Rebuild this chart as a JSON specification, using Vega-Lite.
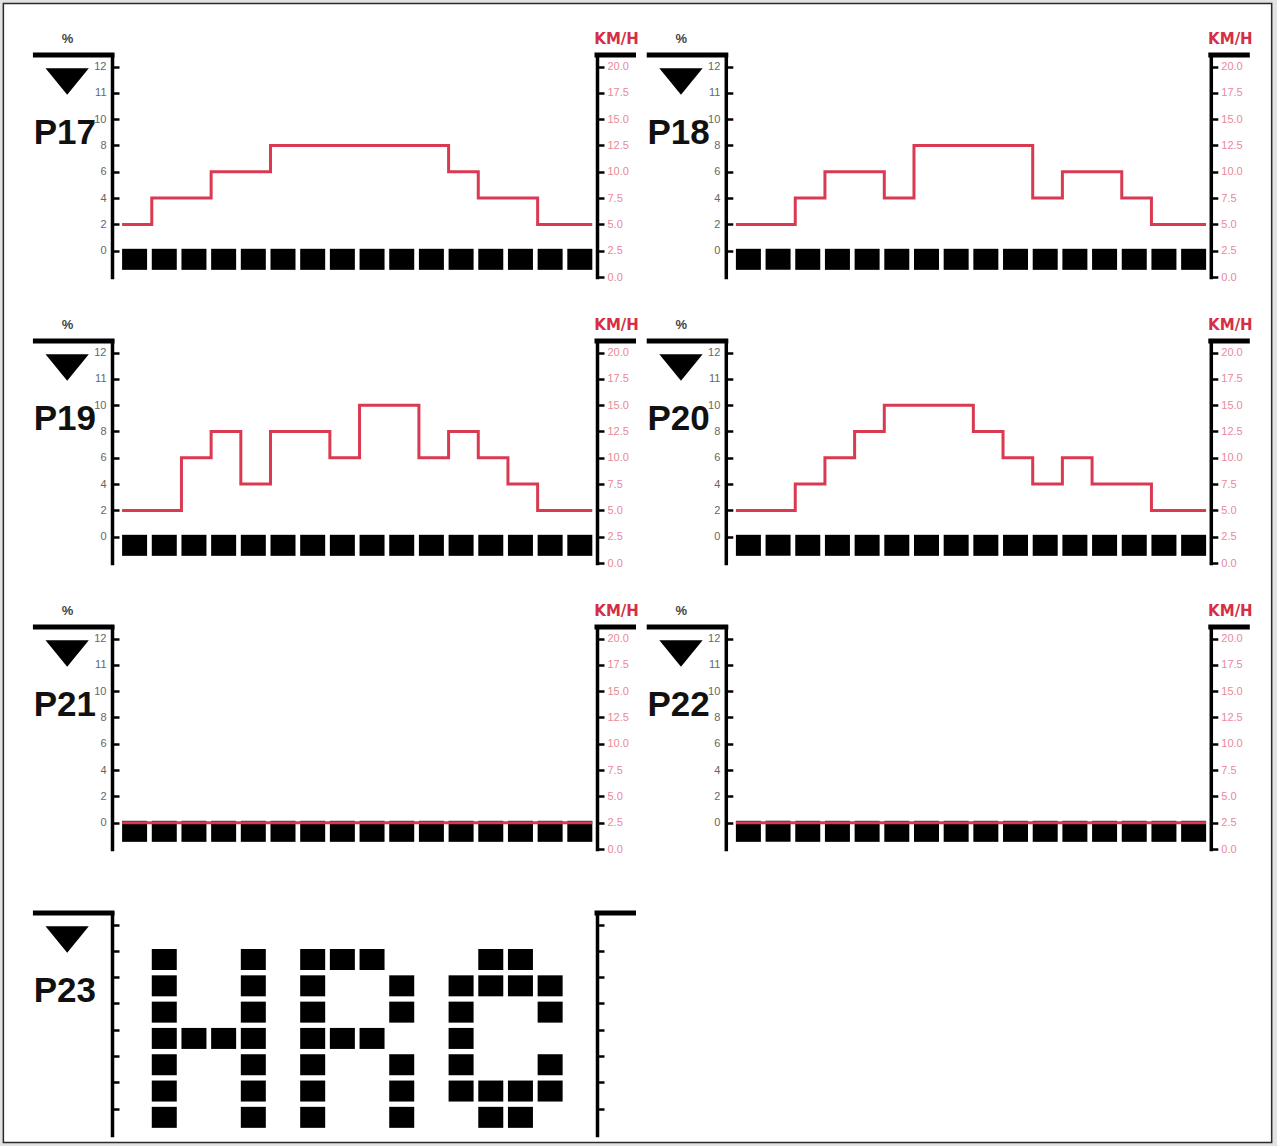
{
"$schema":"https://vega.github.io/schema/vega-lite/v6.json",
"background":"#e2e2e2",
"padding":{"left":2,"top":2,"right":4,"bottom":3},
"config":{"view":{"stroke":null}},
"datasets":{
"segments":[{"seg":0},{"seg":1},{"seg":2},{"seg":3},{"seg":4},{"seg":5},{"seg":6},{"seg":7},{"seg":8},{"seg":9},{"seg":10},{"seg":11},{"seg":12},{"seg":13},{"seg":14},{"seg":15}],
"profiles":[
{"p":"P17","seg":0,"speed":5},{"p":"P17","seg":1,"speed":7.5},{"p":"P17","seg":2,"speed":7.5},{"p":"P17","seg":3,"speed":10},{"p":"P17","seg":4,"speed":10},{"p":"P17","seg":5,"speed":12.5},{"p":"P17","seg":6,"speed":12.5},{"p":"P17","seg":7,"speed":12.5},{"p":"P17","seg":8,"speed":12.5},{"p":"P17","seg":9,"speed":12.5},{"p":"P17","seg":10,"speed":12.5},{"p":"P17","seg":11,"speed":10},{"p":"P17","seg":12,"speed":7.5},{"p":"P17","seg":13,"speed":7.5},{"p":"P17","seg":14,"speed":5},{"p":"P17","seg":15,"speed":5},{"p":"P17","seg":15.84,"speed":5},
{"p":"P18","seg":0,"speed":5},{"p":"P18","seg":1,"speed":5},{"p":"P18","seg":2,"speed":7.5},{"p":"P18","seg":3,"speed":10},{"p":"P18","seg":4,"speed":10},{"p":"P18","seg":5,"speed":7.5},{"p":"P18","seg":6,"speed":12.5},{"p":"P18","seg":7,"speed":12.5},{"p":"P18","seg":8,"speed":12.5},{"p":"P18","seg":9,"speed":12.5},{"p":"P18","seg":10,"speed":7.5},{"p":"P18","seg":11,"speed":10},{"p":"P18","seg":12,"speed":10},{"p":"P18","seg":13,"speed":7.5},{"p":"P18","seg":14,"speed":5},{"p":"P18","seg":15,"speed":5},{"p":"P18","seg":15.84,"speed":5},
{"p":"P19","seg":0,"speed":5},{"p":"P19","seg":1,"speed":5},{"p":"P19","seg":2,"speed":10},{"p":"P19","seg":3,"speed":12.5},{"p":"P19","seg":4,"speed":7.5},{"p":"P19","seg":5,"speed":12.5},{"p":"P19","seg":6,"speed":12.5},{"p":"P19","seg":7,"speed":10},{"p":"P19","seg":8,"speed":15},{"p":"P19","seg":9,"speed":15},{"p":"P19","seg":10,"speed":10},{"p":"P19","seg":11,"speed":12.5},{"p":"P19","seg":12,"speed":10},{"p":"P19","seg":13,"speed":7.5},{"p":"P19","seg":14,"speed":5},{"p":"P19","seg":15,"speed":5},{"p":"P19","seg":15.84,"speed":5},
{"p":"P20","seg":0,"speed":5},{"p":"P20","seg":1,"speed":5},{"p":"P20","seg":2,"speed":7.5},{"p":"P20","seg":3,"speed":10},{"p":"P20","seg":4,"speed":12.5},{"p":"P20","seg":5,"speed":15},{"p":"P20","seg":6,"speed":15},{"p":"P20","seg":7,"speed":15},{"p":"P20","seg":8,"speed":12.5},{"p":"P20","seg":9,"speed":10},{"p":"P20","seg":10,"speed":7.5},{"p":"P20","seg":11,"speed":10},{"p":"P20","seg":12,"speed":7.5},{"p":"P20","seg":13,"speed":7.5},{"p":"P20","seg":14,"speed":5},{"p":"P20","seg":15,"speed":5},{"p":"P20","seg":15.84,"speed":5},
{"p":"P21","seg":0,"speed":2.5},{"p":"P21","seg":15.84,"speed":2.5},
{"p":"P22","seg":0,"speed":2.5},{"p":"P22","seg":15.84,"speed":2.5}
],
"hrc":[
{"col":1,"row":0},{"col":1,"row":1},{"col":1,"row":2},{"col":1,"row":3},{"col":1,"row":4},{"col":1,"row":5},{"col":1,"row":6},
{"col":4,"row":0},{"col":4,"row":1},{"col":4,"row":2},{"col":4,"row":3},{"col":4,"row":4},{"col":4,"row":5},{"col":4,"row":6},
{"col":2,"row":3},{"col":3,"row":3},
{"col":6,"row":0},{"col":6,"row":1},{"col":6,"row":2},{"col":6,"row":3},{"col":6,"row":4},{"col":6,"row":5},{"col":6,"row":6},
{"col":7,"row":6},{"col":8,"row":6},{"col":9,"row":5},{"col":9,"row":4},{"col":7,"row":3},{"col":8,"row":3},{"col":9,"row":2},{"col":9,"row":1},{"col":9,"row":0},
{"col":12,"row":6},{"col":13,"row":6},{"col":11,"row":5},{"col":12,"row":5},{"col":13,"row":5},{"col":14,"row":5},{"col":11,"row":4},{"col":14,"row":4},{"col":11,"row":3},{"col":11,"row":2},{"col":14,"row":2},{"col":11,"row":1},{"col":12,"row":1},{"col":13,"row":1},{"col":14,"row":1},{"col":12,"row":0},{"col":13,"row":0}
]
},
"columns":2,
"bounds":"flush",
"spacing":{"row":64,"column":128.8},
"concat":[
{"width":485,"height":222,"resolve":{"scale":{"y":"independent"}},"layer":[
{"data":{"values":[{}]},"mark":{"type":"rect","fill":"#ffffff","stroke":"#2a2a2a","strokeWidth":1.5},"encoding":{"x":{"datum":-4.0,"type":"quantitative","scale":{"domain":[-0.34,16.0],"nice":false,"zero":false},"axis":null},"x2":{"datum":38.73},"y":{"datum":26.0,"type":"quantitative","scale":{"domain":[0,21.1],"nice":false,"zero":false},"axis":null},"y2":{"datum":-82.27}}},
{"data":{"name":"segments"},"mark":{"type":"rect","color":"#000","x2Offset":25},"encoding":{"x":{"field":"seg","type":"quantitative","scale":{"domain":[-0.34,16.0],"nice":false,"zero":false},"axis":{"orient":"bottom","zindex":1,"labels":false,"ticks":false,"title":null,"grid":false,"domainColor":"#000","domainWidth":4,"domainCap":"square"}},"x2":{"field":"seg"},"y":{"datum":0.68,"type":"quantitative","scale":{"domain":[0,21.1],"nice":false,"zero":false},"axis":null},"y2":{"datum":2.68}}},
{"data":{"values":[{}]},"mark":{"type":"rule","color":"#000","strokeWidth":5,"strokeCap":"square"},"encoding":{"x":{"datum":-2.92,"type":"quantitative","scale":{"domain":[-0.34,16.0],"nice":false,"zero":false},"axis":null},"x2":{"datum":-0.34},"y":{"datum":21.1,"type":"quantitative","scale":{"domain":[0,21.1],"nice":false,"zero":false},"axis":{"orient":"left","zindex":1,"values":[2.5,5,7.5,10,12.5,15,17.5,20],"labelExpr":"datum.value < 3 ? '0' : datum.value < 6 ? '2' : datum.value < 8 ? '4' : datum.value < 11 ? '6' : datum.value < 13 ? '8' : datum.value < 16 ? '10' : datum.value < 18 ? '11' : '12'","title":null,"grid":false,"domainColor":"#000","domainWidth":3.5,"domainCap":"square","tickColor":"#000","tickSize":-7,"tickWidth":2.5,"labelFont":"Liberation Sans","labelFontSize":11,"labelColor":"#666","labelPadding":13}}}},
{"data":{"values":[{}]},"mark":{"type":"rule","color":"#000","strokeWidth":5,"strokeCap":"square"},"encoding":{"x":{"datum":16.0,"type":"quantitative","scale":{"domain":[-0.34,16.0],"nice":false,"zero":false},"axis":null},"x2":{"datum":17.23},"y":{"datum":21.1,"type":"quantitative","scale":{"domain":[0,21.1],"nice":false,"zero":false},"axis":null}}},
{"data":{"name":"profiles"},"transform":[{"filter":"datum.p == 'P17'"}],"mark":{"type":"line","interpolate":"step-after","color":"#d93a52","strokeWidth":3},"encoding":{"x":{"field":"seg","type":"quantitative","scale":{"domain":[-0.34,16.0],"nice":false,"zero":false},"axis":null},"y":{"field":"speed","type":"quantitative","scale":{"domain":[0,21.1],"nice":false,"zero":false},"axis":{"orient":"right","zindex":1,"values":[0,2.5,5,7.5,10,12.5,15,17.5,20],"format":".1f","title":null,"grid":false,"domainColor":"#000","domainWidth":3.5,"domainCap":"square","tickColor":"#000","tickSize":7,"tickWidth":2.5,"labelFont":"Liberation Sans","labelFontSize":11,"labelColor":"#e8899a","labelPadding":3}}}},
{"data":{"values":[{}]},"mark":{"type":"point","shape":"M-1,-0.6L1,-0.6L0,0.63Z","size":1875,"filled":true,"color":"#000","opacity":1,"strokeWidth":0},"encoding":{"x":{"datum":-1.85,"type":"quantitative","scale":{"domain":[-0.34,16.0],"nice":false,"zero":false},"axis":null},"y":{"datum":18.61,"type":"quantitative","scale":{"domain":[0,21.1],"nice":false,"zero":false},"axis":null}}},
{"data":{"values":[{}]},"mark":{"type":"text","font":"Liberation Sans","fontWeight":"bold","fontSize":35,"align":"left","baseline":"alphabetic","color":"#111"},"encoding":{"x":{"datum":-2.98,"type":"quantitative","scale":{"domain":[-0.34,16.0],"nice":false,"zero":false},"axis":null},"y":{"datum":12.66,"type":"quantitative","scale":{"domain":[0,21.1],"nice":false,"zero":false},"axis":null},"text":{"value":"P17"}}},
{"data":{"values":[{}]},"mark":{"type":"text","font":"Liberation Sans","fontWeight":"bold","fontSize":13,"baseline":"middle","color":"#444"},"encoding":{"x":{"datum":-1.84,"type":"quantitative","scale":{"domain":[-0.34,16.0],"nice":false,"zero":false},"axis":null},"y":{"datum":22.6,"type":"quantitative","scale":{"domain":[0,21.1],"nice":false,"zero":false},"axis":null},"text":{"value":"%"}}},
{"data":{"values":[{}]},"mark":{"type":"text","font":"DejaVu Sans","fontWeight":"bold","fontSize":15,"baseline":"middle","color":"#d42f45"},"encoding":{"x":{"datum":16.66,"type":"quantitative","scale":{"domain":[-0.34,16.0],"nice":false,"zero":false},"axis":null},"y":{"datum":22.6,"type":"quantitative","scale":{"domain":[0,21.1],"nice":false,"zero":false},"axis":null},"text":{"value":"KM/H"}}}
]},
{"width":485,"height":222,"resolve":{"scale":{"y":"independent"}},"layer":[
{"data":{"name":"segments"},"mark":{"type":"rect","color":"#000","x2Offset":25},"encoding":{"x":{"field":"seg","type":"quantitative","scale":{"domain":[-0.34,16.0],"nice":false,"zero":false},"axis":{"orient":"bottom","labels":false,"ticks":false,"title":null,"grid":false,"domainColor":"#000","domainWidth":4,"domainCap":"square"}},"x2":{"field":"seg"},"y":{"datum":0.68,"type":"quantitative","scale":{"domain":[0,21.1],"nice":false,"zero":false},"axis":null},"y2":{"datum":2.68}}},
{"data":{"values":[{}]},"mark":{"type":"rule","color":"#000","strokeWidth":5,"strokeCap":"square"},"encoding":{"x":{"datum":-2.92,"type":"quantitative","scale":{"domain":[-0.34,16.0],"nice":false,"zero":false},"axis":null},"x2":{"datum":-0.34},"y":{"datum":21.1,"type":"quantitative","scale":{"domain":[0,21.1],"nice":false,"zero":false},"axis":{"orient":"left","values":[2.5,5,7.5,10,12.5,15,17.5,20],"labelExpr":"datum.value < 3 ? '0' : datum.value < 6 ? '2' : datum.value < 8 ? '4' : datum.value < 11 ? '6' : datum.value < 13 ? '8' : datum.value < 16 ? '10' : datum.value < 18 ? '11' : '12'","title":null,"grid":false,"domainColor":"#000","domainWidth":3.5,"domainCap":"square","tickColor":"#000","tickSize":-7,"tickWidth":2.5,"labelFont":"Liberation Sans","labelFontSize":11,"labelColor":"#666","labelPadding":13}}}},
{"data":{"values":[{}]},"mark":{"type":"rule","color":"#000","strokeWidth":5,"strokeCap":"square"},"encoding":{"x":{"datum":16.0,"type":"quantitative","scale":{"domain":[-0.34,16.0],"nice":false,"zero":false},"axis":null},"x2":{"datum":17.23},"y":{"datum":21.1,"type":"quantitative","scale":{"domain":[0,21.1],"nice":false,"zero":false},"axis":null}}},
{"data":{"name":"profiles"},"transform":[{"filter":"datum.p == 'P18'"}],"mark":{"type":"line","interpolate":"step-after","color":"#d93a52","strokeWidth":3},"encoding":{"x":{"field":"seg","type":"quantitative","scale":{"domain":[-0.34,16.0],"nice":false,"zero":false},"axis":null},"y":{"field":"speed","type":"quantitative","scale":{"domain":[0,21.1],"nice":false,"zero":false},"axis":{"orient":"right","values":[0,2.5,5,7.5,10,12.5,15,17.5,20],"format":".1f","title":null,"grid":false,"domainColor":"#000","domainWidth":3.5,"domainCap":"square","tickColor":"#000","tickSize":7,"tickWidth":2.5,"labelFont":"Liberation Sans","labelFontSize":11,"labelColor":"#e8899a","labelPadding":3}}}},
{"data":{"values":[{}]},"mark":{"type":"point","shape":"M-1,-0.6L1,-0.6L0,0.63Z","size":1875,"filled":true,"color":"#000","opacity":1,"strokeWidth":0},"encoding":{"x":{"datum":-1.85,"type":"quantitative","scale":{"domain":[-0.34,16.0],"nice":false,"zero":false},"axis":null},"y":{"datum":18.61,"type":"quantitative","scale":{"domain":[0,21.1],"nice":false,"zero":false},"axis":null}}},
{"data":{"values":[{}]},"mark":{"type":"text","font":"Liberation Sans","fontWeight":"bold","fontSize":35,"align":"left","baseline":"alphabetic","color":"#111"},"encoding":{"x":{"datum":-2.98,"type":"quantitative","scale":{"domain":[-0.34,16.0],"nice":false,"zero":false},"axis":null},"y":{"datum":12.66,"type":"quantitative","scale":{"domain":[0,21.1],"nice":false,"zero":false},"axis":null},"text":{"value":"P18"}}},
{"data":{"values":[{}]},"mark":{"type":"text","font":"Liberation Sans","fontWeight":"bold","fontSize":13,"baseline":"middle","color":"#444"},"encoding":{"x":{"datum":-1.84,"type":"quantitative","scale":{"domain":[-0.34,16.0],"nice":false,"zero":false},"axis":null},"y":{"datum":22.6,"type":"quantitative","scale":{"domain":[0,21.1],"nice":false,"zero":false},"axis":null},"text":{"value":"%"}}},
{"data":{"values":[{}]},"mark":{"type":"text","font":"DejaVu Sans","fontWeight":"bold","fontSize":15,"baseline":"middle","color":"#d42f45"},"encoding":{"x":{"datum":16.66,"type":"quantitative","scale":{"domain":[-0.34,16.0],"nice":false,"zero":false},"axis":null},"y":{"datum":22.6,"type":"quantitative","scale":{"domain":[0,21.1],"nice":false,"zero":false},"axis":null},"text":{"value":"KM/H"}}}
]},
{"width":485,"height":222,"resolve":{"scale":{"y":"independent"}},"layer":[
{"data":{"name":"segments"},"mark":{"type":"rect","color":"#000","x2Offset":25},"encoding":{"x":{"field":"seg","type":"quantitative","scale":{"domain":[-0.34,16.0],"nice":false,"zero":false},"axis":{"orient":"bottom","labels":false,"ticks":false,"title":null,"grid":false,"domainColor":"#000","domainWidth":4,"domainCap":"square"}},"x2":{"field":"seg"},"y":{"datum":0.68,"type":"quantitative","scale":{"domain":[0,21.1],"nice":false,"zero":false},"axis":null},"y2":{"datum":2.68}}},
{"data":{"values":[{}]},"mark":{"type":"rule","color":"#000","strokeWidth":5,"strokeCap":"square"},"encoding":{"x":{"datum":-2.92,"type":"quantitative","scale":{"domain":[-0.34,16.0],"nice":false,"zero":false},"axis":null},"x2":{"datum":-0.34},"y":{"datum":21.1,"type":"quantitative","scale":{"domain":[0,21.1],"nice":false,"zero":false},"axis":{"orient":"left","values":[2.5,5,7.5,10,12.5,15,17.5,20],"labelExpr":"datum.value < 3 ? '0' : datum.value < 6 ? '2' : datum.value < 8 ? '4' : datum.value < 11 ? '6' : datum.value < 13 ? '8' : datum.value < 16 ? '10' : datum.value < 18 ? '11' : '12'","title":null,"grid":false,"domainColor":"#000","domainWidth":3.5,"domainCap":"square","tickColor":"#000","tickSize":-7,"tickWidth":2.5,"labelFont":"Liberation Sans","labelFontSize":11,"labelColor":"#666","labelPadding":13}}}},
{"data":{"values":[{}]},"mark":{"type":"rule","color":"#000","strokeWidth":5,"strokeCap":"square"},"encoding":{"x":{"datum":16.0,"type":"quantitative","scale":{"domain":[-0.34,16.0],"nice":false,"zero":false},"axis":null},"x2":{"datum":17.23},"y":{"datum":21.1,"type":"quantitative","scale":{"domain":[0,21.1],"nice":false,"zero":false},"axis":null}}},
{"data":{"name":"profiles"},"transform":[{"filter":"datum.p == 'P19'"}],"mark":{"type":"line","interpolate":"step-after","color":"#d93a52","strokeWidth":3},"encoding":{"x":{"field":"seg","type":"quantitative","scale":{"domain":[-0.34,16.0],"nice":false,"zero":false},"axis":null},"y":{"field":"speed","type":"quantitative","scale":{"domain":[0,21.1],"nice":false,"zero":false},"axis":{"orient":"right","values":[0,2.5,5,7.5,10,12.5,15,17.5,20],"format":".1f","title":null,"grid":false,"domainColor":"#000","domainWidth":3.5,"domainCap":"square","tickColor":"#000","tickSize":7,"tickWidth":2.5,"labelFont":"Liberation Sans","labelFontSize":11,"labelColor":"#e8899a","labelPadding":3}}}},
{"data":{"values":[{}]},"mark":{"type":"point","shape":"M-1,-0.6L1,-0.6L0,0.63Z","size":1875,"filled":true,"color":"#000","opacity":1,"strokeWidth":0},"encoding":{"x":{"datum":-1.85,"type":"quantitative","scale":{"domain":[-0.34,16.0],"nice":false,"zero":false},"axis":null},"y":{"datum":18.61,"type":"quantitative","scale":{"domain":[0,21.1],"nice":false,"zero":false},"axis":null}}},
{"data":{"values":[{}]},"mark":{"type":"text","font":"Liberation Sans","fontWeight":"bold","fontSize":35,"align":"left","baseline":"alphabetic","color":"#111"},"encoding":{"x":{"datum":-2.98,"type":"quantitative","scale":{"domain":[-0.34,16.0],"nice":false,"zero":false},"axis":null},"y":{"datum":12.66,"type":"quantitative","scale":{"domain":[0,21.1],"nice":false,"zero":false},"axis":null},"text":{"value":"P19"}}},
{"data":{"values":[{}]},"mark":{"type":"text","font":"Liberation Sans","fontWeight":"bold","fontSize":13,"baseline":"middle","color":"#444"},"encoding":{"x":{"datum":-1.84,"type":"quantitative","scale":{"domain":[-0.34,16.0],"nice":false,"zero":false},"axis":null},"y":{"datum":22.6,"type":"quantitative","scale":{"domain":[0,21.1],"nice":false,"zero":false},"axis":null},"text":{"value":"%"}}},
{"data":{"values":[{}]},"mark":{"type":"text","font":"DejaVu Sans","fontWeight":"bold","fontSize":15,"baseline":"middle","color":"#d42f45"},"encoding":{"x":{"datum":16.66,"type":"quantitative","scale":{"domain":[-0.34,16.0],"nice":false,"zero":false},"axis":null},"y":{"datum":22.6,"type":"quantitative","scale":{"domain":[0,21.1],"nice":false,"zero":false},"axis":null},"text":{"value":"KM/H"}}}
]},
{"width":485,"height":222,"resolve":{"scale":{"y":"independent"}},"layer":[
{"data":{"name":"segments"},"mark":{"type":"rect","color":"#000","x2Offset":25},"encoding":{"x":{"field":"seg","type":"quantitative","scale":{"domain":[-0.34,16.0],"nice":false,"zero":false},"axis":{"orient":"bottom","labels":false,"ticks":false,"title":null,"grid":false,"domainColor":"#000","domainWidth":4,"domainCap":"square"}},"x2":{"field":"seg"},"y":{"datum":0.68,"type":"quantitative","scale":{"domain":[0,21.1],"nice":false,"zero":false},"axis":null},"y2":{"datum":2.68}}},
{"data":{"values":[{}]},"mark":{"type":"rule","color":"#000","strokeWidth":5,"strokeCap":"square"},"encoding":{"x":{"datum":-2.92,"type":"quantitative","scale":{"domain":[-0.34,16.0],"nice":false,"zero":false},"axis":null},"x2":{"datum":-0.34},"y":{"datum":21.1,"type":"quantitative","scale":{"domain":[0,21.1],"nice":false,"zero":false},"axis":{"orient":"left","values":[2.5,5,7.5,10,12.5,15,17.5,20],"labelExpr":"datum.value < 3 ? '0' : datum.value < 6 ? '2' : datum.value < 8 ? '4' : datum.value < 11 ? '6' : datum.value < 13 ? '8' : datum.value < 16 ? '10' : datum.value < 18 ? '11' : '12'","title":null,"grid":false,"domainColor":"#000","domainWidth":3.5,"domainCap":"square","tickColor":"#000","tickSize":-7,"tickWidth":2.5,"labelFont":"Liberation Sans","labelFontSize":11,"labelColor":"#666","labelPadding":13}}}},
{"data":{"values":[{}]},"mark":{"type":"rule","color":"#000","strokeWidth":5,"strokeCap":"square"},"encoding":{"x":{"datum":16.0,"type":"quantitative","scale":{"domain":[-0.34,16.0],"nice":false,"zero":false},"axis":null},"x2":{"datum":17.23},"y":{"datum":21.1,"type":"quantitative","scale":{"domain":[0,21.1],"nice":false,"zero":false},"axis":null}}},
{"data":{"name":"profiles"},"transform":[{"filter":"datum.p == 'P20'"}],"mark":{"type":"line","interpolate":"step-after","color":"#d93a52","strokeWidth":3},"encoding":{"x":{"field":"seg","type":"quantitative","scale":{"domain":[-0.34,16.0],"nice":false,"zero":false},"axis":null},"y":{"field":"speed","type":"quantitative","scale":{"domain":[0,21.1],"nice":false,"zero":false},"axis":{"orient":"right","values":[0,2.5,5,7.5,10,12.5,15,17.5,20],"format":".1f","title":null,"grid":false,"domainColor":"#000","domainWidth":3.5,"domainCap":"square","tickColor":"#000","tickSize":7,"tickWidth":2.5,"labelFont":"Liberation Sans","labelFontSize":11,"labelColor":"#e8899a","labelPadding":3}}}},
{"data":{"values":[{}]},"mark":{"type":"point","shape":"M-1,-0.6L1,-0.6L0,0.63Z","size":1875,"filled":true,"color":"#000","opacity":1,"strokeWidth":0},"encoding":{"x":{"datum":-1.85,"type":"quantitative","scale":{"domain":[-0.34,16.0],"nice":false,"zero":false},"axis":null},"y":{"datum":18.61,"type":"quantitative","scale":{"domain":[0,21.1],"nice":false,"zero":false},"axis":null}}},
{"data":{"values":[{}]},"mark":{"type":"text","font":"Liberation Sans","fontWeight":"bold","fontSize":35,"align":"left","baseline":"alphabetic","color":"#111"},"encoding":{"x":{"datum":-2.98,"type":"quantitative","scale":{"domain":[-0.34,16.0],"nice":false,"zero":false},"axis":null},"y":{"datum":12.66,"type":"quantitative","scale":{"domain":[0,21.1],"nice":false,"zero":false},"axis":null},"text":{"value":"P20"}}},
{"data":{"values":[{}]},"mark":{"type":"text","font":"Liberation Sans","fontWeight":"bold","fontSize":13,"baseline":"middle","color":"#444"},"encoding":{"x":{"datum":-1.84,"type":"quantitative","scale":{"domain":[-0.34,16.0],"nice":false,"zero":false},"axis":null},"y":{"datum":22.6,"type":"quantitative","scale":{"domain":[0,21.1],"nice":false,"zero":false},"axis":null},"text":{"value":"%"}}},
{"data":{"values":[{}]},"mark":{"type":"text","font":"DejaVu Sans","fontWeight":"bold","fontSize":15,"baseline":"middle","color":"#d42f45"},"encoding":{"x":{"datum":16.66,"type":"quantitative","scale":{"domain":[-0.34,16.0],"nice":false,"zero":false},"axis":null},"y":{"datum":22.6,"type":"quantitative","scale":{"domain":[0,21.1],"nice":false,"zero":false},"axis":null},"text":{"value":"KM/H"}}}
]},
{"width":485,"height":222,"resolve":{"scale":{"y":"independent"}},"layer":[
{"data":{"name":"segments"},"mark":{"type":"rect","color":"#000","x2Offset":25},"encoding":{"x":{"field":"seg","type":"quantitative","scale":{"domain":[-0.34,16.0],"nice":false,"zero":false},"axis":{"orient":"bottom","labels":false,"ticks":false,"title":null,"grid":false,"domainColor":"#000","domainWidth":4,"domainCap":"square"}},"x2":{"field":"seg"},"y":{"datum":0.68,"type":"quantitative","scale":{"domain":[0,21.1],"nice":false,"zero":false},"axis":null},"y2":{"datum":2.68}}},
{"data":{"values":[{}]},"mark":{"type":"rule","color":"#000","strokeWidth":5,"strokeCap":"square"},"encoding":{"x":{"datum":-2.92,"type":"quantitative","scale":{"domain":[-0.34,16.0],"nice":false,"zero":false},"axis":null},"x2":{"datum":-0.34},"y":{"datum":21.1,"type":"quantitative","scale":{"domain":[0,21.1],"nice":false,"zero":false},"axis":{"orient":"left","values":[2.5,5,7.5,10,12.5,15,17.5,20],"labelExpr":"datum.value < 3 ? '0' : datum.value < 6 ? '2' : datum.value < 8 ? '4' : datum.value < 11 ? '6' : datum.value < 13 ? '8' : datum.value < 16 ? '10' : datum.value < 18 ? '11' : '12'","title":null,"grid":false,"domainColor":"#000","domainWidth":3.5,"domainCap":"square","tickColor":"#000","tickSize":-7,"tickWidth":2.5,"labelFont":"Liberation Sans","labelFontSize":11,"labelColor":"#666","labelPadding":13}}}},
{"data":{"values":[{}]},"mark":{"type":"rule","color":"#000","strokeWidth":5,"strokeCap":"square"},"encoding":{"x":{"datum":16.0,"type":"quantitative","scale":{"domain":[-0.34,16.0],"nice":false,"zero":false},"axis":null},"x2":{"datum":17.23},"y":{"datum":21.1,"type":"quantitative","scale":{"domain":[0,21.1],"nice":false,"zero":false},"axis":null}}},
{"data":{"name":"profiles"},"transform":[{"filter":"datum.p == 'P21'"}],"mark":{"type":"line","interpolate":"step-after","color":"#d93a52","strokeWidth":3},"encoding":{"x":{"field":"seg","type":"quantitative","scale":{"domain":[-0.34,16.0],"nice":false,"zero":false},"axis":null},"y":{"field":"speed","type":"quantitative","scale":{"domain":[0,21.1],"nice":false,"zero":false},"axis":{"orient":"right","values":[0,2.5,5,7.5,10,12.5,15,17.5,20],"format":".1f","title":null,"grid":false,"domainColor":"#000","domainWidth":3.5,"domainCap":"square","tickColor":"#000","tickSize":7,"tickWidth":2.5,"labelFont":"Liberation Sans","labelFontSize":11,"labelColor":"#e8899a","labelPadding":3}}}},
{"data":{"values":[{}]},"mark":{"type":"point","shape":"M-1,-0.6L1,-0.6L0,0.63Z","size":1875,"filled":true,"color":"#000","opacity":1,"strokeWidth":0},"encoding":{"x":{"datum":-1.85,"type":"quantitative","scale":{"domain":[-0.34,16.0],"nice":false,"zero":false},"axis":null},"y":{"datum":18.61,"type":"quantitative","scale":{"domain":[0,21.1],"nice":false,"zero":false},"axis":null}}},
{"data":{"values":[{}]},"mark":{"type":"text","font":"Liberation Sans","fontWeight":"bold","fontSize":35,"align":"left","baseline":"alphabetic","color":"#111"},"encoding":{"x":{"datum":-2.98,"type":"quantitative","scale":{"domain":[-0.34,16.0],"nice":false,"zero":false},"axis":null},"y":{"datum":12.66,"type":"quantitative","scale":{"domain":[0,21.1],"nice":false,"zero":false},"axis":null},"text":{"value":"P21"}}},
{"data":{"values":[{}]},"mark":{"type":"text","font":"Liberation Sans","fontWeight":"bold","fontSize":13,"baseline":"middle","color":"#444"},"encoding":{"x":{"datum":-1.84,"type":"quantitative","scale":{"domain":[-0.34,16.0],"nice":false,"zero":false},"axis":null},"y":{"datum":22.6,"type":"quantitative","scale":{"domain":[0,21.1],"nice":false,"zero":false},"axis":null},"text":{"value":"%"}}},
{"data":{"values":[{}]},"mark":{"type":"text","font":"DejaVu Sans","fontWeight":"bold","fontSize":15,"baseline":"middle","color":"#d42f45"},"encoding":{"x":{"datum":16.66,"type":"quantitative","scale":{"domain":[-0.34,16.0],"nice":false,"zero":false},"axis":null},"y":{"datum":22.6,"type":"quantitative","scale":{"domain":[0,21.1],"nice":false,"zero":false},"axis":null},"text":{"value":"KM/H"}}}
]},
{"width":485,"height":222,"resolve":{"scale":{"y":"independent"}},"layer":[
{"data":{"name":"segments"},"mark":{"type":"rect","color":"#000","x2Offset":25},"encoding":{"x":{"field":"seg","type":"quantitative","scale":{"domain":[-0.34,16.0],"nice":false,"zero":false},"axis":{"orient":"bottom","labels":false,"ticks":false,"title":null,"grid":false,"domainColor":"#000","domainWidth":4,"domainCap":"square"}},"x2":{"field":"seg"},"y":{"datum":0.68,"type":"quantitative","scale":{"domain":[0,21.1],"nice":false,"zero":false},"axis":null},"y2":{"datum":2.68}}},
{"data":{"values":[{}]},"mark":{"type":"rule","color":"#000","strokeWidth":5,"strokeCap":"square"},"encoding":{"x":{"datum":-2.92,"type":"quantitative","scale":{"domain":[-0.34,16.0],"nice":false,"zero":false},"axis":null},"x2":{"datum":-0.34},"y":{"datum":21.1,"type":"quantitative","scale":{"domain":[0,21.1],"nice":false,"zero":false},"axis":{"orient":"left","values":[2.5,5,7.5,10,12.5,15,17.5,20],"labelExpr":"datum.value < 3 ? '0' : datum.value < 6 ? '2' : datum.value < 8 ? '4' : datum.value < 11 ? '6' : datum.value < 13 ? '8' : datum.value < 16 ? '10' : datum.value < 18 ? '11' : '12'","title":null,"grid":false,"domainColor":"#000","domainWidth":3.5,"domainCap":"square","tickColor":"#000","tickSize":-7,"tickWidth":2.5,"labelFont":"Liberation Sans","labelFontSize":11,"labelColor":"#666","labelPadding":13}}}},
{"data":{"values":[{}]},"mark":{"type":"rule","color":"#000","strokeWidth":5,"strokeCap":"square"},"encoding":{"x":{"datum":16.0,"type":"quantitative","scale":{"domain":[-0.34,16.0],"nice":false,"zero":false},"axis":null},"x2":{"datum":17.23},"y":{"datum":21.1,"type":"quantitative","scale":{"domain":[0,21.1],"nice":false,"zero":false},"axis":null}}},
{"data":{"name":"profiles"},"transform":[{"filter":"datum.p == 'P22'"}],"mark":{"type":"line","interpolate":"step-after","color":"#d93a52","strokeWidth":3},"encoding":{"x":{"field":"seg","type":"quantitative","scale":{"domain":[-0.34,16.0],"nice":false,"zero":false},"axis":null},"y":{"field":"speed","type":"quantitative","scale":{"domain":[0,21.1],"nice":false,"zero":false},"axis":{"orient":"right","values":[0,2.5,5,7.5,10,12.5,15,17.5,20],"format":".1f","title":null,"grid":false,"domainColor":"#000","domainWidth":3.5,"domainCap":"square","tickColor":"#000","tickSize":7,"tickWidth":2.5,"labelFont":"Liberation Sans","labelFontSize":11,"labelColor":"#e8899a","labelPadding":3}}}},
{"data":{"values":[{}]},"mark":{"type":"point","shape":"M-1,-0.6L1,-0.6L0,0.63Z","size":1875,"filled":true,"color":"#000","opacity":1,"strokeWidth":0},"encoding":{"x":{"datum":-1.85,"type":"quantitative","scale":{"domain":[-0.34,16.0],"nice":false,"zero":false},"axis":null},"y":{"datum":18.61,"type":"quantitative","scale":{"domain":[0,21.1],"nice":false,"zero":false},"axis":null}}},
{"data":{"values":[{}]},"mark":{"type":"text","font":"Liberation Sans","fontWeight":"bold","fontSize":35,"align":"left","baseline":"alphabetic","color":"#111"},"encoding":{"x":{"datum":-2.98,"type":"quantitative","scale":{"domain":[-0.34,16.0],"nice":false,"zero":false},"axis":null},"y":{"datum":12.66,"type":"quantitative","scale":{"domain":[0,21.1],"nice":false,"zero":false},"axis":null},"text":{"value":"P22"}}},
{"data":{"values":[{}]},"mark":{"type":"text","font":"Liberation Sans","fontWeight":"bold","fontSize":13,"baseline":"middle","color":"#444"},"encoding":{"x":{"datum":-1.84,"type":"quantitative","scale":{"domain":[-0.34,16.0],"nice":false,"zero":false},"axis":null},"y":{"datum":22.6,"type":"quantitative","scale":{"domain":[0,21.1],"nice":false,"zero":false},"axis":null},"text":{"value":"%"}}},
{"data":{"values":[{}]},"mark":{"type":"text","font":"DejaVu Sans","fontWeight":"bold","fontSize":15,"baseline":"middle","color":"#d42f45"},"encoding":{"x":{"datum":16.66,"type":"quantitative","scale":{"domain":[-0.34,16.0],"nice":false,"zero":false},"axis":null},"y":{"datum":22.6,"type":"quantitative","scale":{"domain":[0,21.1],"nice":false,"zero":false},"axis":null},"text":{"value":"KM/H"}}}
]},
{"width":485,"height":222,"resolve":{"scale":{"y":"independent"}},"layer":[
{"data":{"name":"hrc"},"mark":{"type":"rect","color":"#000","x2Offset":25,"y2Offset":-21},"encoding":{"x":{"field":"col","type":"quantitative","scale":{"domain":[-0.34,16.0],"nice":false,"zero":false},"axis":{"orient":"bottom","labels":false,"ticks":false,"title":null,"grid":false,"domainColor":"#000","domainWidth":4,"domainCap":"square"}},"x2":{"field":"col"},"y":{"field":"row","type":"quantitative","scale":{"domain":[-0.272,8.168],"nice":false,"zero":false},"axis":null},"y2":{"field":"row"}}},
{"data":{"values":[{}]},"mark":{"type":"rule","color":"#000","strokeWidth":5,"strokeCap":"square"},"encoding":{"x":{"datum":-2.92,"type":"quantitative","scale":{"domain":[-0.34,16.0],"nice":false,"zero":false},"axis":null},"x2":{"datum":-0.34},"y":{"datum":21.1,"type":"quantitative","scale":{"domain":[0,21.1],"nice":false,"zero":false},"axis":{"orient":"left","values":[2.5,5,7.5,10,12.5,15,17.5,20],"labels":false,"title":null,"grid":false,"domainColor":"#000","domainWidth":3.5,"domainCap":"square","tickColor":"#000","tickSize":-7,"tickWidth":2.5}}}},
{"data":{"values":[{}]},"mark":{"type":"rule","color":"#000","strokeWidth":5,"strokeCap":"square"},"encoding":{"x":{"datum":16.0,"type":"quantitative","scale":{"domain":[-0.34,16.0],"nice":false,"zero":false},"axis":null},"x2":{"datum":17.23},"y":{"datum":21.1,"type":"quantitative","scale":{"domain":[0,21.1],"nice":false,"zero":false},"axis":{"orient":"right","values":[2.5,5,7.5,10,12.5,15,17.5,20],"labels":false,"title":null,"grid":false,"domainColor":"#000","domainWidth":3.5,"domainCap":"square","tickColor":"#000","tickSize":7,"tickWidth":2.5}}}},
{"data":{"values":[{}]},"mark":{"type":"point","shape":"M-1,-0.6L1,-0.6L0,0.63Z","size":1875,"filled":true,"color":"#000","opacity":1,"strokeWidth":0},"encoding":{"x":{"datum":-1.85,"type":"quantitative","scale":{"domain":[-0.34,16.0],"nice":false,"zero":false},"axis":null},"y":{"datum":18.61,"type":"quantitative","scale":{"domain":[0,21.1],"nice":false,"zero":false},"axis":null}}},
{"data":{"values":[{}]},"mark":{"type":"text","font":"Liberation Sans","fontWeight":"bold","fontSize":35,"align":"left","baseline":"alphabetic","color":"#111"},"encoding":{"x":{"datum":-2.98,"type":"quantitative","scale":{"domain":[-0.34,16.0],"nice":false,"zero":false},"axis":null},"y":{"datum":12.66,"type":"quantitative","scale":{"domain":[0,21.1],"nice":false,"zero":false},"axis":null},"text":{"value":"P23"}}}
]}
]
}
